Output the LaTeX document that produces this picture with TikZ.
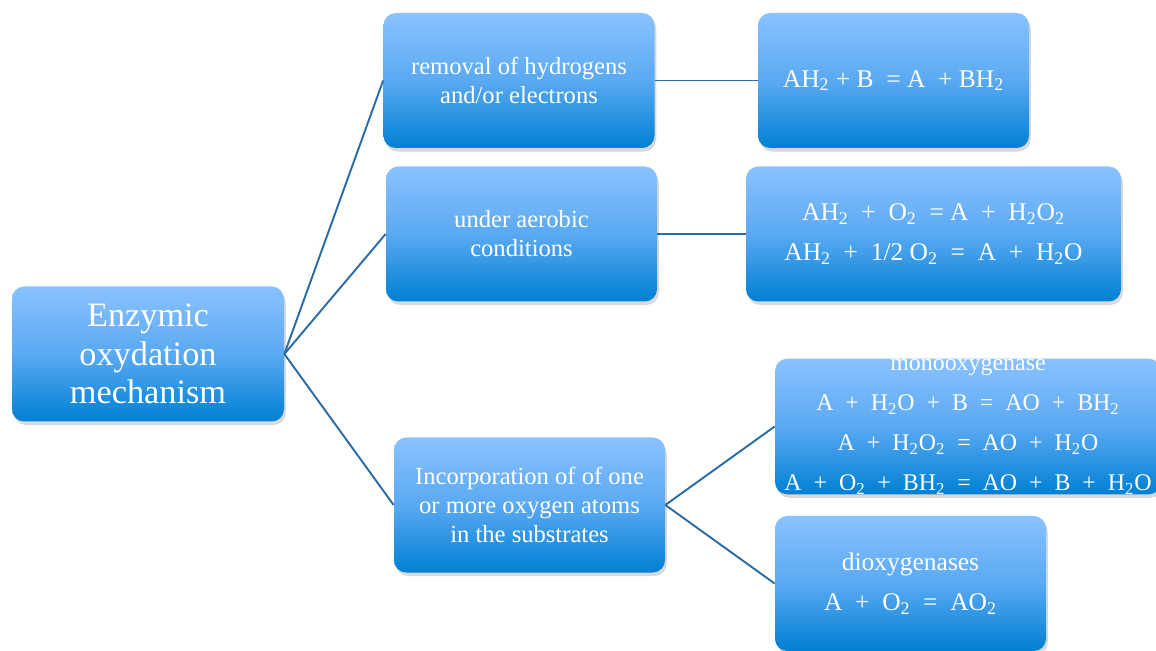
\documentclass[tikz,border=0pt]{standalone}
\usepackage{fontspec}
\setmainfont{Liberation Serif}
\usetikzlibrary{shadows}
\definecolor{boxtop}{HTML}{8AC2FF}
\definecolor{boxmid}{HTML}{5AA9F2}
\definecolor{boxbottom}{HTML}{0080D3}
\definecolor{linkblue}{HTML}{2A6CA6}
\tikzset{%
  every box/.style={
    rectangle,
    rounded corners=7pt,
    text=white,
    align=center,
    inner sep=0pt,
    top color=boxtop,
    bottom color=boxbottom,
    middle color=boxmid,
    drop shadow={opacity=0.3, shadow xshift=1pt, shadow yshift=-2pt},
    minimum width=271*0.02cm,
    minimum height=135*0.02cm,
    font=\fontsize{14}{16.5}\selectfont
  },
  box root/.style={
    minimum width=272*0.02cm,
    font=\fontsize{19.5}{22}\selectfont
  },
  box eqn/.style={
    font=\fontsize{14.5}{22.5}\selectfont
  },
  box mono/.style={
    minimum width=386*0.02cm,
    font=\fontsize{13.6}{22.7}\selectfont
  },
  box wide/.style={
    minimum width=375*0.02cm
  },
  link/.style={
    draw=linkblue,
    line width=1.1pt
  },
}

\begin{document}
\begin{tikzpicture}[x=0.02cm, y=-0.02cm]
    \useasboundingbox (0,0) rectangle (1156,651);

    % left column
    \node [every box, box root] (root) at (148,354) {Enzymic\\oxydation\\mechanism};

    % middle column
    \node [every box] (removal) at (519,80.5) {removal of hydrogens\\and/or electrons};
    \node [every box] (aerobic) at (521.5,234) {under aerobic\\conditions};
    \node [every box] (incorp) at (529.5,505) {Incorporation of of one\\or more oxygen atoms\\in the substrates};

    % right column
    \node [every box, box eqn] (eqn-1) at (893.5,80.5)
      {AH\textsubscript{2} + B \ = A \ + BH\textsubscript{2}};
    \node [every box, box eqn, box wide] (eqn-2) at (933.5,234)
      {AH\textsubscript{2} \ + \ O\textsubscript{2} \ = A \ + \ H\textsubscript{2}O\textsubscript{2}\\
       AH\textsubscript{2} \ + \ 1/2 O\textsubscript{2} \ = \ A \ + \ H\textsubscript{2}O};
    \node [every box, box mono] (mono) at (968,426.5)
      {monooxygenase\\
       A \ + \ H\textsubscript{2}O \ + \ B \ = \ AO \ + \ BH\textsubscript{2}\\
       A \ + \ H\textsubscript{2}O\textsubscript{2} \ = \ AO \ + \ H\textsubscript{2}O\\
       A \ + \ O\textsubscript{2} \ + \ BH\textsubscript{2} \ = \ AO \ + \ B \ + \ H\textsubscript{2}O};
    \node [every box, box eqn] (dioxy) at (910.5,583.5)
      {dioxygenases\\A \ + \ O\textsubscript{2} \ = \ AO\textsubscript{2}};

    % connectors
    \foreach \t in {removal,aerobic,incorp}
      \draw [link] (root.east) -- (\t.west);
    \draw [link] (removal.east) -- (eqn-1.west);
    \draw [link] (aerobic.east) -- (eqn-2.west);
    \foreach \t in {mono,dioxy}
      \draw [link] (incorp.east) -- (\t.west);

\end{tikzpicture}
\end{document}
